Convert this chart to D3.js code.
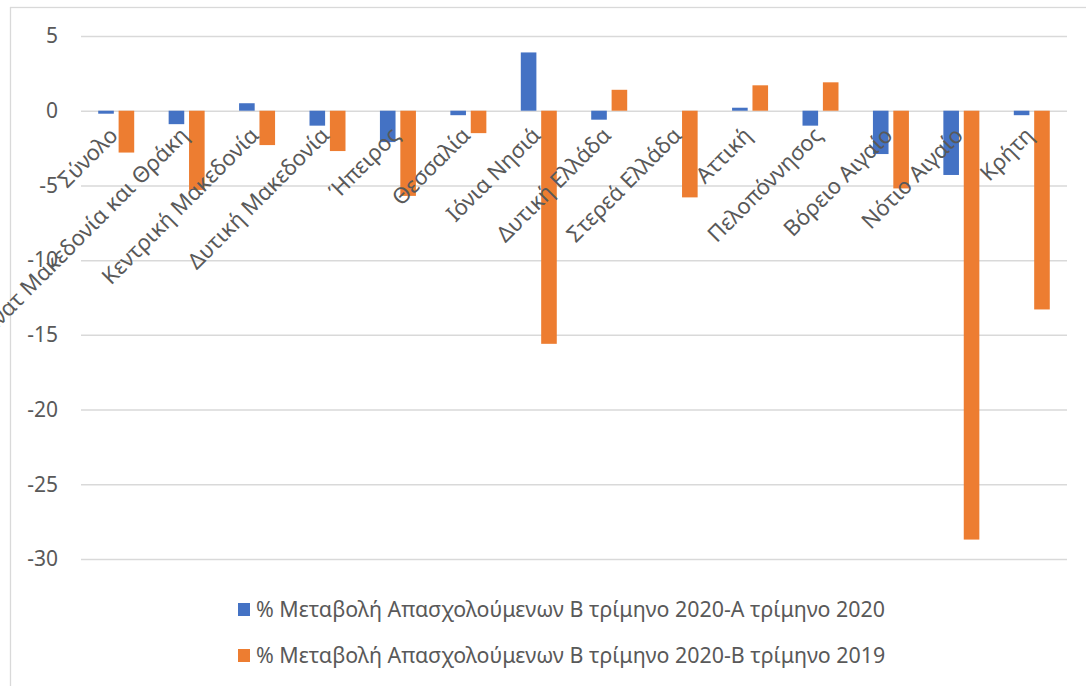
<!DOCTYPE html>
<html>
<head>
<meta charset="utf-8">
<script src="https://cdn.jsdelivr.net/npm/d3@7"></script>
<style>
  body { margin: 0; background: #fff; }
  svg { display: block; }
</style>
</head>
<body>
<div id="chart"></div>
<script>
// Περιφέρειες (κατηγορίες)
const categories = [
  "Σύνολο", "Ανατ Μακεδονία και Θράκη", "Κεντρική Μακεδονία", "Δυτική Μακεδονία",
  "Ήπειρος", "Θεσσαλία", "Ιόνια Νησιά", "Δυτική Ελλάδα", "Στερεά Ελλάδα",
  "Αττική", "Πελοπόννησος", "Βόρειο Αιγαίο", "Νότιο Αιγαίο", "Κρήτη"
];

// Σειρές
const seriesNames = [
  "% Μεταβολή Απασχολούμενων Β τρίμηνο 2020-Α τρίμηνο 2020",
  "% Μεταβολή Απασχολούμενων Β τρίμηνο 2020-Β τρίμηνο 2019"
];
const changeQ2vsQ1 = [-0.2, -0.9, 0.5, -1.0, -2.1, -0.3, 3.9, -0.6, 0.0, 0.2, -1.0, -2.9, -4.3, -0.3];
const changeQ2vsQ2prev = [-2.8, -5.3, -2.3, -2.7, -5.7, -1.5, -15.6, 1.4, -5.8, 1.7, 1.9, -5.2, -28.7, -13.3];
const seriesColors = ["#4472C4", "#ED7D31"];

// Άξονας y
const yTicks = [5, 0, -5, -10, -15, -20, -25, -30];

const width = 1086, height = 686;
const font = "'Noto Sans', 'Open Sans', sans-serif";
const textColor = "#595959";

const svg = d3.select("#chart").append("svg")
  .attr("width", width)
  .attr("height", height);

// Πλαίσιο γραφήματος
svg.append("rect")
  .attr("x", 10.5).attr("y", 7.5)
  .attr("width", 1100).attr("height", 700)
  .attr("fill", "none")
  .attr("stroke", "#d9d9d9")
  .attr("stroke-width", 1.3);

const plotLeft = 81, plotRight = 1067;

const y = d3.scaleLinear().domain([-30, 5]).range([559, 36]);

const x0 = d3.scaleBand()
  .domain(categories)
  .range([plotLeft, plotRight])
  .paddingInner(0.489)
  .paddingOuter(0.2445);

const x1 = d3.scaleBand()
  .domain([0, 1])
  .range([0, x0.bandwidth()])
  .paddingInner(0.235);

// Γραμμές πλέγματος και ετικέτες
const yAxis = d3.axisLeft(y)
  .tickValues(yTicks)
  .tickSize(-(plotRight - plotLeft))
  .tickPadding(23)
  .tickFormat(d => String(d));

const gy = svg.append("g")
  .attr("transform", `translate(${plotLeft},0)`)
  .call(yAxis);
gy.select(".domain").remove();
gy.selectAll(".tick line")
  .attr("stroke", "#d9d9d9")
  .attr("stroke-width", 1.5);
gy.selectAll(".tick text")
  .attr("fill", textColor)
  .style("font-family", font)
  .style("font-size", "21px");

// Ράβδοι
const rows = categories.map((c, i) => ({ cat: c, values: [changeQ2vsQ1[i], changeQ2vsQ2prev[i]] }));

const groups = svg.append("g")
  .selectAll("g")
  .data(rows)
  .join("g")
  .attr("transform", d => `translate(${x0(d.cat)},0)`);

groups.selectAll("rect")
  .data(d => d.values.map((v, k) => ({ k, v })))
  .join("rect")
  .attr("x", d => x1(d.k))
  .attr("width", x1.bandwidth())
  .attr("y", d => y(Math.max(0, d.v)))
  .attr("height", d => Math.abs(y(d.v) - y(0)))
  .attr("fill", d => seriesColors[d.k]);

// Ετικέτες κατηγοριών (περιστραμμένες)
svg.append("g")
  .selectAll("text")
  .data(categories)
  .join("text")
  .attr("transform", d => `translate(${x0(d) + x0.bandwidth() / 2 + 3},${y(0) + 26}) rotate(-45)`)
  .attr("text-anchor", "end")
  .attr("fill", textColor)
  .style("font-family", font)
  .style("font-size", "22px")
  .text(d => d);

// Υπόμνημα
const legend = svg.append("g")
  .selectAll("g")
  .data(seriesNames)
  .join("g")
  .attr("transform", (d, i) => `translate(238,${603 + i * 46})`);

legend.append("rect")
  .attr("width", 12)
  .attr("height", 13)
  .attr("fill", (d, i) => seriesColors[i]);

legend.append("text")
  .attr("x", 18)
  .attr("y", 14)
  .attr("fill", textColor)
  .style("font-family", font)
  .style("font-size", "21.4px")
  .text(d => d);
</script>
</body>
</html>
